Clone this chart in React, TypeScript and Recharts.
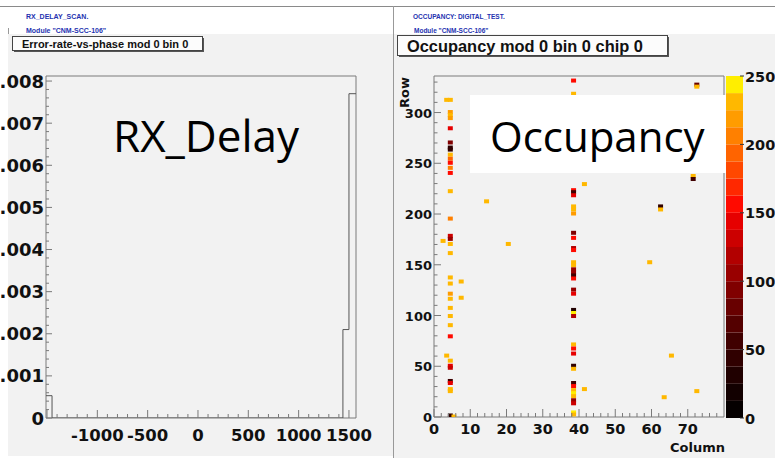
import React from 'react';
import { LineChart, Line, XAxis, YAxis, ReferenceArea, ScatterChart, Scatter, BarChart, Bar } from 'recharts';

const AXIS_FONT = '"DejaVu Sans", Verdana, sans-serif';
const TITLE_FONT = '"Liberation Sans", Arial, Helvetica, sans-serif';
const SLIDE_FONT = '"Open Sans", "Noto Sans", sans-serif';
const FRAME = '#7a7a7a';
const PANEL = '#f2f2f2';
const HEADER_BLUE = '#2432b0';

// ---------- RX delay scan (error rate vs phase) ----------
const phaseEdges = [-1510, -1450, 1440, 1500, 1570];
const errorRates = [0.00053, 0, 0.0021, 0.0077, 0.0077];
const phaseDomain = [-1510, 1570];
const rateDomain = [0, 0.00812];
const phaseLabels = [-1000, -500, 0, 500, 1000, 1500];
const rateLabels = ['0', '0.001', '0.002', '0.003', '0.004', '0.005', '0.006', '0.007', '0.008'];

// ---------- Occupancy map (column, row, hits) ----------
const col4Rows = [312, 300, 297, 294, 284, 270, 265, 263, 258, 254, 250, 245, 240, 222, 195, 178, 175, 170, 161, 137, 131, 121, 116, 107, 99, 90, 79, 55, 50, 48, 35, 33, 27, 25, 1];
const col4Hits = [225, 222, 228, 220, 145, 95, 45, 40, 225, 190, 150, 210, 150, 225, 200, 130, 110, 225, 228, 225, 228, 222, 225, 228, 225, 228, 150, 225, 145, 130, 50, 140, 225, 228, 40];
const col38Rows = [331, 318, 223, 221, 218, 207, 204, 200, 181, 176, 166, 164, 152, 149, 145, 142, 139, 136, 125, 121, 105, 102, 99, 71, 67, 62, 50, 47, 33, 30, 26, 23, 20, 16, 13, 4, 2];
const col38Hits = [150, 225, 150, 60, 145, 228, 225, 222, 90, 150, 120, 150, 228, 225, 110, 100, 60, 150, 110, 145, 30, 238, 120, 228, 150, 140, 40, 228, 60, 150, 225, 240, 228, 100, 130, 245, 232];
const strayCols = [2, 3, 3, 5, 7, 7, 14, 20, 41, 41, 59, 62, 62, 63, 65, 71, 71, 72, 72, 72];
const strayRows = [173, 312, 60, 0, 133, 117, 212, 170, 229, 27, 152, 207, 204, 19, 60, 237, 234, 25, 327, 325];
const strayHits = [225, 225, 228, 225, 228, 225, 228, 225, 235, 228, 225, 40, 228, 228, 225, 225, 60, 228, 80, 225];
const colLabels = [0, 10, 20, 30, 40, 50, 60, 70];
const rowLabels = [0, 50, 100, 150, 200, 250, 300];
const colDomain = [0, 80];
const rowDomain = [0, 336];

// ---------- colour scale ----------
const paletteBands = ['#050000', '#120000', '#200000', '#300000', '#400000', '#540000', '#680000', '#800000', '#990000', '#b20000', '#cc0000', '#e60000', '#ff0a00', '#ff2800', '#ff4800', '#ff6400', '#ff8000', '#ff9c00', '#ffb800', '#ffee00'];
const zLabels = [0, 50, 100, 150, 200, 250];
const zMax = 250;

const bandSize = zMax / paletteBands.length;
const zColor = (z: number) => paletteBands[Math.max(0, Math.min(paletteBands.length - 1, Math.floor(z / bandSize)))];

const step = (a: number, b: number, s: number) => {
  const out: number[] = [];
  for (let i = 0; a + i * s <= b + 1e-9; i++) out.push(+(a + i * s).toFixed(6));
  return out;
};

const histData = phaseEdges.map((x, i) => ({ x, y: errorRates[i] }));
const hits = [
  ...col4Rows.map((r, i) => ({ x: 4.5, y: r + 0.5, z: col4Hits[i] })),
  ...col38Rows.map((r, i) => ({ x: 38.5, y: r + 0.5, z: col38Hits[i] })),
  ...strayCols.map((c, i) => ({ x: c + 0.5, y: strayRows[i] + 0.5, z: strayHits[i] })),
];
const colorbarRow: any = { name: 'z' };
paletteBands.forEach((_, i) => { colorbarRow['b' + i] = bandSize; });

const phaseTicks = step(-1500, 1500, 100);
const rateTicks = step(0, 0.008, 0.0002);
const colTicks = step(0, 78, 2);
const rowTicks = step(0, 330, 10);

const LeftYTick = (p: any) => {
  const v = p.payload.value;
  const k = Math.round(v / 0.0002);
  const major = k % 5 === 0;
  return (
    <g>
      <line x1={p.x} x2={p.x + (major ? 6 : 3)} y1={p.y} y2={p.y} stroke={FRAME} />
      {major && (
        <text x={p.x - 2} y={p.y + 6.5} textAnchor="end" fontFamily={AXIS_FONT} fontWeight="bold" fontSize={18} fill="#111">
          {rateLabels[k / 5]}
        </text>
      )}
    </g>
  );
};

const LeftXTick = (p: any) => {
  const v = p.payload.value;
  const major = Math.abs(v) % 500 === 0;
  const labelled = phaseLabels.includes(v);
  return (
    <g>
      <line x1={p.x} x2={p.x} y1={p.y} y2={p.y - (major ? 8 : 4)} stroke={FRAME} />
      {labelled && (
        <text x={p.x} y={p.y + 22.5} textAnchor="middle" fontFamily={AXIS_FONT} fontWeight="bold" fontSize={16.5} fill="#111">
          {v}
        </text>
      )}
    </g>
  );
};

const RightYTick = (p: any) => {
  const v = p.payload.value;
  const major = v % 50 === 0;
  return (
    <g>
      <line x1={p.x} x2={p.x + (major ? 7 : 3.5)} y1={p.y} y2={p.y} stroke={FRAME} />
      {rowLabels.includes(v) && (
        <text x={p.x - 2} y={p.y + 5} textAnchor="end" fontFamily={AXIS_FONT} fontWeight="bold" fontSize={13} fill="#111">
          {v}
        </text>
      )}
    </g>
  );
};

const RightXTick = (p: any) => {
  const v = p.payload.value;
  const major = v % 10 === 0;
  return (
    <g>
      <line x1={p.x} x2={p.x} y1={p.y} y2={p.y - (major ? 8 : 4)} stroke={FRAME} />
      {colLabels.includes(v) && (
        <text x={p.x} y={p.y + 17} textAnchor="middle" fontFamily={AXIS_FONT} fontWeight="bold" fontSize={14.5} fill="#111">
          {v}
        </text>
      )}
    </g>
  );
};

const ZTick = (p: any) => {
  const v = p.payload.value;
  return (
    <g>
      <line x1={p.x - 3} x2={p.x + 1} y1={p.y} y2={p.y} stroke="#333" />
      <text x={p.x + 2} y={p.y + 5.5} textAnchor="start" fontFamily={AXIS_FONT} fontWeight="bold" fontSize={14.5} fill="#111">
        {v}
      </text>
    </g>
  );
};

const HitShape = (p: any) => (
  <rect x={p.cx - 2.5} y={p.cy - 2} width={5} height={4} fill={zColor(p.payload.z)} />
);

const abs = (l: number, t: number, w: number, h: number): React.CSSProperties => ({
  position: 'absolute', left: l, top: t, width: w, height: h,
});

export default function App() {
  return (
    <div style={{ ...abs(0, 0, 775, 458), background: '#fff', overflow: 'hidden' }}>
      {/* backgrounds */}
      <div style={{ ...abs(0, 6, 775, 1), background: '#8a8a8a' }} />
      <div style={{ ...abs(8, 34, 385, 422), background: PANEL }} />
      <div style={{ ...abs(394, 34, 381, 424), background: PANEL }} />
      <div style={{ ...abs(393, 6, 1, 452), background: '#999' }} />
      <div style={{ ...abs(8, 28, 1, 6), background: '#999' }} />

      {/* left: error rate vs phase */}
      <div style={abs(0, 0, 390, 458)}>
        <LineChart width={390} height={458} data={histData} margin={{ top: 76, right: 34, bottom: 39, left: 45 }}>
          <XAxis type="number" dataKey="x" domain={phaseDomain} allowDataOverflow ticks={phaseTicks} interval={0}
            tick={LeftXTick} tickLine={false} axisLine={false} tickSize={0} tickMargin={0} height={1} />
          <YAxis type="number" domain={rateDomain} allowDataOverflow ticks={rateTicks} interval={0}
            tick={LeftYTick} tickLine={false} axisLine={false} tickSize={0} tickMargin={0} width={1} />
          <ReferenceArea x1={phaseDomain[0]} x2={phaseDomain[1]} y1={rateDomain[0]} y2={rateDomain[1]} fill="none" stroke={FRAME} strokeWidth={1} fillOpacity={0} />
          <Line type="stepAfter" dataKey="y" stroke="#555" strokeWidth={1} dot={false} isAnimationActive={false} />
        </LineChart>
      </div>

      {/* right: occupancy map */}
      <div style={abs(390, 0, 385, 458)}>
        <ScatterChart width={385} height={458} margin={{ top: 76, right: 51, bottom: 40, left: 43 }}>
          <XAxis type="number" dataKey="x" domain={colDomain} allowDataOverflow ticks={colTicks} interval={0}
            tick={RightXTick} tickLine={false} axisLine={false} tickSize={0} tickMargin={0} height={1} />
          <YAxis type="number" dataKey="y" domain={rowDomain} allowDataOverflow ticks={rowTicks} interval={0}
            tick={RightYTick} tickLine={false} axisLine={false} tickSize={0} tickMargin={0} width={1} />
          <ReferenceArea x1={colDomain[0]} x2={colDomain[1]} y1={rowDomain[0]} y2={rowDomain[1]} fill="none" stroke={FRAME} strokeWidth={1} fillOpacity={0} />
          <Scatter data={hits} shape={HitShape} isAnimationActive={false} />
        </ScatterChart>
      </div>

      {/* colour bar */}
      <div style={abs(700, 0, 75, 458)}>
        <BarChart width={75} height={458} data={[colorbarRow]} margin={{ top: 76, right: 31, bottom: 40, left: 26 }} barCategoryGap={0} barGap={0}>
          <XAxis dataKey="name" hide />
          <YAxis orientation="right" type="number" domain={[0, zMax]} ticks={zLabels} interval={0}
            tick={ZTick} tickLine={false} axisLine={false} tickSize={0} tickMargin={0} width={1} />
          {paletteBands.map((c, i) => (
            <Bar key={i} dataKey={'b' + i} stackId="cb" fill={c} isAnimationActive={false} />
          ))}
        </BarChart>
      </div>

      {/* overlays */}
      <svg width={775} height={458} style={{ position: 'absolute', left: 0, top: 0, pointerEvents: 'none' }}>
        <g fontFamily={TITLE_FONT} fontWeight="bold" fill={HEADER_BLUE}>
          <text x={26} y={19} fontSize={7}>RX_DELAY_SCAN.</text>
          <text x={26} y={32.5} fontSize={7}>Module "CNM-SCC-106"</text>
          <text x={413} y={19} fontSize={6.5}>OCCUPANCY: DIGITAL_TEST.</text>
          <text x={414} y={32.5} fontSize={6.5}>Module "CNM-SCC-106"</text>
        </g>

        <rect x={14} y={38} width={190} height={14} fill="#555" />
        <rect x={12.5} y={36.5} width={190} height={14} fill="#fcfcfc" stroke="#444" />
        <text x={22} y={47.5} fontFamily={TITLE_FONT} fontWeight="bold" fontSize={11} fill="#111">Error-rate-vs-phase mod 0 bin 0</text>

        <rect x={399} y={37} width={270} height={20} fill="#555" />
        <rect x={397.5} y={35.5} width={270} height={20} fill="#fcfcfc" stroke="#444" />
        <text x={407} y={51.5} fontFamily={TITLE_FONT} fontWeight="bold" fontSize={16.4} fill="#111">Occupancy mod 0 bin 0 chip 0</text>

        <text x={113} y={152} fontFamily={SLIDE_FONT} fontSize={44} fill="#000">RX_Delay</text>
        <rect x={470} y={95} width={256} height={78} fill="#fff" />
        <text x={490} y={152} fontFamily={SLIDE_FONT} fontSize={42} fill="#000">Occupancy</text>

        <text transform="translate(409,77) rotate(-90)" textAnchor="end" fontFamily={AXIS_FONT} fontWeight="bold" fontSize={13} fill="#111">Row</text>
        <text x={725} y={452} textAnchor="end" fontFamily={AXIS_FONT} fontWeight="bold" fontSize={13} fill="#111">Column</text>
      </svg>
    </div>
  );
}
